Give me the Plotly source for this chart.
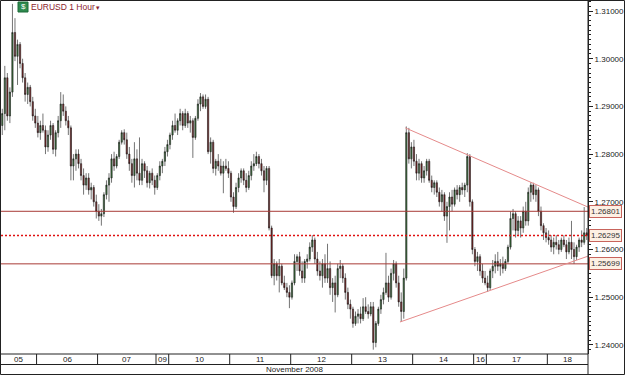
import plotly.graph_objects as go

# ---------------- data (EURUSD 1 hour, 5-18 Nov 2008) ----------------
opens = [
 1.2860,1.2885,1.2960,1.2880,1.2930,1.3055,1.3005,1.3030,1.2990,1.2960,1.2925,1.2940,1.2910,1.2880,
 1.2865,1.2845,1.2860,1.2850,1.2815,1.2840,1.2860,1.2810,1.2845,1.2870,1.2905,1.2890,1.2870,1.2855,1.2775,1.2790,1.2800,1.2780,1.2755,1.2735,1.2750,1.2725,1.2730,1.2700,
 1.2680,1.2670,1.2675,1.2715,1.2735,1.2750,1.2790,1.2775,1.2795,1.2825,1.2845,1.2830,1.2800,1.2780,1.2755,1.2790,1.2760,1.2745,1.2780,1.2765,1.2740,1.2760,1.2745,
 1.2730,1.2755,1.2775,1.2785,1.2805,
 1.2820,1.2840,1.2860,1.2850,1.2870,1.2885,1.2860,1.2885,1.2865,1.2870,1.2835,1.2875,1.2905,1.2920,1.2900,1.2915,1.2805,1.2825,1.2770,1.2785,1.2775,1.2760,1.2775,1.2770,
 1.2760,1.2710,1.2690,1.2730,1.2750,1.2765,1.2745,1.2730,1.2755,1.2775,1.2780,1.2795,1.2780,1.2765,1.2745,1.2770,1.2645,1.2545,1.2570,1.2545,1.2565,1.2530,1.2520,1.2510,
 1.2500,1.2530,1.2575,1.2585,1.2555,1.2540,1.2575,1.2580,1.2605,1.2620,1.2580,1.2555,1.2545,1.2570,1.2540,1.2560,1.2520,1.2530,1.2505,1.2560,1.2565,1.2540,1.2510,1.2485,
 1.2475,1.2445,1.2460,1.2465,1.2455,1.2480,1.2470,1.2465,1.2480,1.2405,1.2445,1.2475,1.2495,1.2510,1.2530,1.2500,1.2550,1.2570,1.2530,1.2490,1.2470,1.2540,1.2845,1.2790,
 1.2815,1.2785,1.2760,1.2780,1.2750,1.2765,1.2785,1.2745,1.2730,1.2740,1.2720,1.2700,1.2715,1.2670,1.2690,1.2710,1.2695,1.2725,1.2715,1.2730,1.2725,1.2735,1.2795,
 1.2700,1.2600,1.2575,1.2585,1.2555,
 1.2540,1.2530,1.2520,1.2555,1.2565,1.2575,1.2565,1.2570,1.2560,1.2575,1.2605,1.2665,1.2675,1.2640,1.2660,1.2645,1.2680,1.2660,1.2720,1.2735,1.2715,1.2725,1.2680,1.2650,
 1.2635,1.2625,1.2620,1.2605,1.2615,1.2610,1.2600,1.2620,1.2610,1.2595,1.2615,1.2600,1.2585,1.2605,1.2620,1.2615,1.2635,
]
highs = [
 1.2895,1.2985,1.2970,1.2940,1.3115,1.3085,1.3040,1.3035,1.3000,1.2970,1.2950,1.2945,1.2920,1.2895,
 1.2880,1.2870,1.2885,1.2860,1.2850,1.2870,1.2865,1.2850,1.2880,1.2930,1.2925,1.2900,1.2880,1.2860,1.2800,1.2810,1.2810,1.2790,1.2770,1.2760,1.2760,1.2740,1.2735,1.2715,
 1.2695,1.2685,1.2720,1.2745,1.2760,1.2800,1.2805,1.2800,1.2830,1.2850,1.2852,1.2845,1.2815,1.2790,1.2825,1.2810,1.2835,1.2790,1.2785,1.2775,1.2765,1.2770,1.2755,
 1.2760,1.2785,1.2790,1.2815,1.2830,
 1.2845,1.2870,1.2885,1.2875,1.2895,1.2890,1.2895,1.2890,1.2880,1.2875,1.2880,1.2915,1.2928,1.2925,1.2925,1.2920,1.2835,1.2830,1.2790,1.2800,1.2790,1.2785,1.2790,1.2785,
 1.2765,1.2720,1.2740,1.2760,1.2770,1.2770,1.2760,1.2765,1.2785,1.2800,1.2805,1.2800,1.2790,1.2775,1.2775,1.2775,1.2650,1.2580,1.2575,1.2580,1.2570,1.2545,1.2530,1.2525,
 1.2535,1.2590,1.2590,1.2595,1.2575,1.2580,1.2590,1.2615,1.2630,1.2625,1.2595,1.2575,1.2580,1.2590,1.2612,1.2575,1.2540,1.2545,1.2570,1.2578,1.2570,1.2550,1.2520,1.2495,
 1.2480,1.2470,1.2475,1.2480,1.2498,1.2500,1.2485,1.2490,1.2490,1.2450,1.2480,1.2505,1.2520,1.2593,1.2545,1.2560,1.2578,1.2575,1.2545,1.2510,1.2560,1.2858,1.2855,1.2825,
 1.2830,1.2800,1.2790,1.2785,1.2775,1.2790,1.2790,1.2755,1.2745,1.2745,1.2730,1.2725,1.2720,1.2700,1.2720,1.2725,1.2730,1.2735,1.2735,1.2740,1.2740,1.2802,1.2800,
 1.2705,1.2605,1.2595,1.2590,1.2570,
 1.2555,1.2545,1.2560,1.2578,1.2590,1.2595,1.2580,1.2585,1.2580,1.2610,1.2680,1.2685,1.2680,1.2670,1.2670,1.2690,1.2700,1.2730,1.2741,1.2740,1.2735,1.2730,1.2690,1.2655,
 1.2645,1.2640,1.2630,1.2625,1.2630,1.2620,1.2625,1.2630,1.2620,1.2625,1.2660,1.2615,1.2610,1.2625,1.2640,1.2689,1.2645,
]
lows = [
 1.2840,1.2850,1.2870,1.2865,1.2920,1.2995,1.2945,1.2980,1.2950,1.2910,1.2905,1.2900,1.2870,1.2855,
 1.2835,1.2830,1.2845,1.2800,1.2805,1.2830,1.2800,1.2795,1.2835,1.2855,1.2880,1.2860,1.2840,1.2745,1.2745,1.2765,1.2770,1.2745,1.2715,1.2725,1.2715,1.2705,1.2690,1.2665,
 1.2660,1.2650,1.2668,1.2705,1.2700,1.2740,1.2765,1.2770,1.2790,1.2820,1.2820,1.2790,1.2765,1.2740,1.2730,1.2745,1.2735,1.2735,1.2750,1.2730,1.2728,1.2735,1.2715,
 1.2725,1.2745,1.2760,1.2775,1.2795,
 1.2810,1.2830,1.2845,1.2840,1.2860,1.2850,1.2855,1.2855,1.2845,1.2792,1.2830,1.2870,1.2890,1.2895,1.2895,1.2800,1.2780,1.2760,1.2755,1.2765,1.2755,1.2718,1.2765,1.2750,
 1.2700,1.2677,1.2685,1.2720,1.2740,1.2735,1.2720,1.2725,1.2745,1.2765,1.2775,1.2770,1.2755,1.2720,1.2735,1.2640,1.2540,1.2525,1.2535,1.2510,1.2525,1.2515,1.2500,1.2477,
 1.2495,1.2525,1.2555,1.2545,1.2530,1.2530,1.2560,1.2575,1.2595,1.2570,1.2545,1.2535,1.2520,1.2530,1.2530,1.2505,1.2490,1.2468,1.2500,1.2540,1.2530,1.2495,1.2475,1.2455,
 1.2436,1.2440,1.2445,1.2445,1.2450,1.2465,1.2455,1.2460,1.2390,1.2395,1.2440,1.2465,1.2485,1.2505,1.2490,1.2495,1.2535,1.2520,1.2480,1.2448,1.2455,1.2535,1.2780,1.2770,
 1.2775,1.2745,1.2745,1.2740,1.2740,1.2755,1.2740,1.2720,1.2715,1.2710,1.2690,1.2680,1.2660,1.2614,1.2640,1.2680,1.2690,1.2705,1.2700,1.2715,1.2710,1.2720,1.2690,
 1.2590,1.2565,1.2555,1.2545,1.2530,
 1.2525,1.2511,1.2515,1.2540,1.2550,1.2555,1.2545,1.2550,1.2555,1.2570,1.2600,1.2640,1.2625,1.2630,1.2625,1.2635,1.2650,1.2650,1.2700,1.2705,1.2700,1.2670,1.2640,1.2620,
 1.2615,1.2610,1.2595,1.2590,1.2600,1.2590,1.2595,1.2605,1.2580,1.2590,1.2580,1.2570,1.2578,1.2595,1.2605,1.2610,1.2620,
]
closes = [
 1.2885,1.2960,1.2880,1.2930,1.3055,1.3005,1.3030,1.2990,1.2960,1.2925,1.2940,1.2910,1.2880,1.2865,
 1.2845,1.2860,1.2850,1.2815,1.2840,1.2860,1.2810,1.2845,1.2870,1.2905,1.2890,1.2870,1.2855,1.2775,1.2790,1.2800,1.2780,1.2755,1.2735,1.2750,1.2725,1.2730,1.2700,1.2680,
 1.2670,1.2675,1.2715,1.2735,1.2750,1.2790,1.2775,1.2795,1.2825,1.2845,1.2830,1.2800,1.2780,1.2755,1.2790,1.2760,1.2745,1.2780,1.2765,1.2740,1.2760,1.2745,1.2730,
 1.2755,1.2775,1.2785,1.2805,1.2820,
 1.2840,1.2860,1.2850,1.2870,1.2885,1.2860,1.2885,1.2865,1.2870,1.2835,1.2875,1.2905,1.2920,1.2900,1.2915,1.2805,1.2825,1.2770,1.2785,1.2775,1.2760,1.2775,1.2770,1.2760,
 1.2710,1.2690,1.2730,1.2750,1.2765,1.2745,1.2730,1.2755,1.2775,1.2780,1.2795,1.2780,1.2765,1.2745,1.2770,1.2645,1.2545,1.2570,1.2545,1.2565,1.2530,1.2520,1.2510,1.2500,
 1.2530,1.2575,1.2585,1.2555,1.2540,1.2575,1.2580,1.2605,1.2620,1.2580,1.2555,1.2545,1.2570,1.2540,1.2560,1.2520,1.2530,1.2505,1.2560,1.2565,1.2540,1.2510,1.2485,1.2475,
 1.2445,1.2460,1.2465,1.2455,1.2480,1.2470,1.2465,1.2480,1.2405,1.2445,1.2475,1.2495,1.2510,1.2530,1.2500,1.2550,1.2570,1.2530,1.2490,1.2470,1.2540,1.2845,1.2790,1.2815,
 1.2785,1.2760,1.2780,1.2750,1.2765,1.2785,1.2745,1.2730,1.2740,1.2720,1.2700,1.2715,1.2670,1.2690,1.2710,1.2695,1.2725,1.2715,1.2730,1.2725,1.2735,1.2795,1.2700,
 1.2600,1.2575,1.2585,1.2555,1.2540,
 1.2530,1.2520,1.2555,1.2565,1.2575,1.2565,1.2570,1.2560,1.2575,1.2605,1.2665,1.2675,1.2640,1.2660,1.2645,1.2680,1.2660,1.2720,1.2735,1.2715,1.2725,1.2680,1.2650,1.2635,
 1.2625,1.2620,1.2605,1.2615,1.2610,1.2600,1.2620,1.2610,1.2595,1.2615,1.2600,1.2585,1.2605,1.2620,1.2615,1.2635,1.26295,
]

# day labels and the candle index at which each day starts (session boundaries)
day_labels = ["05", "06", "07", "09", "10", "11", "12", "13", "14", "16", "17", "18"]
day_starts = [0, 14, 38, 61, 66, 90, 114, 138, 162, 186, 191, 215]
month_label = "November 2008"
title_text = "EURUSD 1 Hour"

# horizontal levels (solid, dotted, solid)
level_values = [1.26801, 1.26295, 1.25699]
level_dash = ["solid", "dot", "solid"]
# trendlines: (candle index, price) endpoints
upper_trend = [(158.6, 1.2855), (230.5, 1.2689)]
lower_trend = [(156.5, 1.2448), (230.5, 1.2586)]

N = len(closes)
xs = list(range(N))

# ---------------- geometry ----------------
W, H = 625, 375
ML, MR, MT, MB = 1, 37, 1, 21
PW = W - ML - MR
PH = H - MT - MB
XMIN, XMAX = -0.5, N - 0.5
YMIN, YMAX = 1.23809, 1.31210


def px(xpix):
    return (xpix - ML) / PW


def py(ypix):
    return (H - MB - ypix) / PH


def dx(v):
    return (v - XMIN) / (XMAX - XMIN)


FONT = "Liberation Sans, Arial, sans-serif"
LEVEL_COLOR = "#a83a36"
TREND_COLOR = "#e58a8a"

fig = go.Figure()
fig.add_trace(go.Candlestick(
    x=xs, open=opens, high=highs, low=lows, close=closes,
    increasing=dict(fillcolor="#3f7a3f", line=dict(color="#151515", width=0.6)),
    decreasing=dict(fillcolor="#862828", line=dict(color="#151515", width=0.6)),
    whiskerwidth=0, hoverinfo="skip", showlegend=False,
))

shapes = []
# horizontal levels
for v, d in zip(level_values, level_dash):
    shapes.append(dict(type="line", xref="paper", yref="y", x0=0, x1=1, y0=v, y1=v,
                       line=dict(color=LEVEL_COLOR if d == "solid" else "#e01010",
                                 width=1 if d == "solid" else 1.4,
                                 dash=d if d == "solid" else "2px,2px")))
# trendlines
for (a, b) in (upper_trend, lower_trend):
    shapes.append(dict(type="line", xref="x", yref="y", x0=a[0], y0=a[1], x1=b[0], y1=b[1],
                       line=dict(color=TREND_COLOR, width=1)))

# date row
y_row_top = py(354)
y_row_bot = py(364.5)
shapes.append(dict(type="line", xref="paper", yref="paper", x0=px(0), x1=1, y0=y_row_top, y1=y_row_top,
                   line=dict(color="#222", width=1)))
shapes.append(dict(type="line", xref="paper", yref="paper", x0=px(0), x1=1, y0=y_row_bot, y1=y_row_bot,
                   line=dict(color="#222", width=1)))
bounds = [s - 0.5 for s in day_starts] + [XMAX]
for b in bounds[1:-1]:
    shapes.append(dict(type="line", xref="paper", yref="paper", x0=dx(b), x1=dx(b),
                       y0=y_row_top, y1=y_row_bot, line=dict(color="#222", width=1)))
# right axis line extending to bottom
shapes.append(dict(type="line", xref="paper", yref="paper", x0=1, x1=1, y0=py(375), y1=py(0),
                   line=dict(color="#222", width=1)))
# outer frame
shapes.append(dict(type="rect", xref="paper", yref="paper", x0=px(0.5), x1=px(624.5),
                   y0=py(374.5), y1=py(0.5), line=dict(color="#222", width=1)))
# title icon
shapes.append(dict(type="rect", xref="paper", yref="paper", x0=px(18), x1=px(28),
                   y0=py(12), y1=py(2), fillcolor="#2e8a4e", line=dict(color="#1d6b38", width=1)))

annotations = []
for i, lab in enumerate(day_labels):
    mid = (bounds[i] + bounds[i + 1]) / 2
    annotations.append(dict(x=dx(mid), y=py(359.5), xref="paper", yref="paper", text=lab,
                            showarrow=False, xanchor="center", yanchor="middle",
                            font=dict(family=FONT, size=8, color="#222")))
annotations.append(dict(x=0.5, y=py(370), xref="paper", yref="paper", text=month_label,
                        showarrow=False, xanchor="center", yanchor="middle",
                        font=dict(family=FONT, size=8, color="#222")))
annotations.append(dict(x=px(29), y=py(7), xref="paper", yref="paper",
                        text=title_text + "<span style='font-size:6px'>▼</span>",
                        showarrow=False, xanchor="left", yanchor="middle",
                        font=dict(family=FONT, size=8.5, color="#8b1c2e")))
annotations.append(dict(x=px(23), y=py(7), xref="paper", yref="paper", text="$",
                        showarrow=False, xanchor="center", yanchor="middle",
                        font=dict(family=FONT, size=8, color="white")))
for v in level_values:
    annotations.append(dict(x=px(589), y=v, xref="paper", yref="y", text=f"{v:.5f}",
                            showarrow=False, xanchor="left", yanchor="middle",
                            bgcolor="#fdf0e4", bordercolor="#c8645c", borderwidth=1, borderpad=1,
                            font=dict(family=FONT, size=8, color="#333")))

fig.update_layout(
    width=W, height=H, autosize=False,
    margin=dict(l=ML, r=MR, t=MT, b=MB, pad=0),
    paper_bgcolor="white", plot_bgcolor="white",
    showlegend=False, hovermode=False,
    shapes=shapes, annotations=annotations,
    xaxis=dict(range=[XMIN, XMAX], visible=False, rangeslider=dict(visible=False), fixedrange=True),
    yaxis=dict(range=[YMIN, YMAX], side="right", tick0=1.24, dtick=0.01, tickformat=".5f",
               ticks="outside", ticklen=4, tickcolor="#222", showgrid=False, zeroline=False,
               showline=True, linecolor="#222", linewidth=1,
               tickfont=dict(family=FONT, size=8, color="#222"),
               minor=dict(dtick=0.001, ticks="outside", ticklen=2, tickcolor="#222")),
)

fig.write_html("out.html")
